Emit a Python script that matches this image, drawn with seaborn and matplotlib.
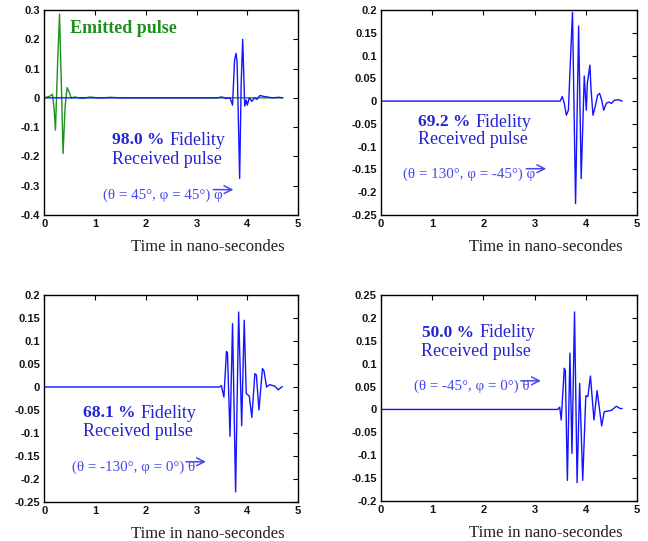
import matplotlib
matplotlib.use("Agg")
import matplotlib.pyplot as plt
import seaborn as sns
import pandas as pd

# ---------------- data ----------------
x_ticks = [0, 1, 2, 3, 4, 5]
x_ticklabels = ["0", "1", "2", "3", "4", "5"]

# panel 1 : emitted (green) and received (blue)
t_emit = [0.00, 0.10, 0.16, 0.19, 0.22, 0.26, 0.30, 0.34, 0.37, 0.41, 0.45, 0.49, 0.53,
          0.60, 0.75, 0.90, 1.10, 1.30, 1.50, 2.00, 4.70]
v_emit = [0.0, 0.005, 0.012, -0.03, -0.11, 0.106, 0.286, 0.02, -0.19, -0.03, 0.035, 0.02, 0.0,
          0.003, -0.002, 0.003, -0.001, 0.002, 0.0, 0.0, 0.0]
t_rx1 = [0.00, 3.40, 3.50, 3.58, 3.66, 3.71, 3.75, 3.78, 3.80, 3.85, 3.88, 3.91, 3.95, 3.98,
         4.00, 4.04, 4.09, 4.14, 4.19, 4.25, 4.32, 4.39, 4.50, 4.62, 4.70]
v_rx1 = [0.0, 0.0, 0.003, -0.002, 0.0, -0.025, 0.13, 0.152, 0.12, -0.275, 0.05, 0.200, -0.028,
         -0.008, -0.025, 0.0, -0.012, 0.0, -0.005, 0.008, 0.005, 0.003, 0.0, 0.002, 0.0]
y1_ticks = [-0.4, -0.3, -0.2, -0.1, 0, 0.1, 0.2, 0.3]
y1_labels = ["-0.4", "-0.3", "-0.2", "-0.1", "0", "0.1", "0.2", "0.3"]

# panel 2
t_rx2 = [0.00, 3.50, 3.54, 3.58, 3.62, 3.66, 3.70, 3.74, 3.80, 3.86, 3.91, 3.97, 4.01, 4.03,
         4.08, 4.10, 4.14, 4.19, 4.23, 4.27, 4.31, 4.35, 4.40, 4.45, 4.50, 4.56, 4.64, 4.71]
v_rx2 = [0.0, 0.0, 0.01, -0.005, -0.031, -0.02, 0.09, 0.195, -0.225, 0.165, -0.17, 0.055, -0.02,
         0.039, 0.079, 0.03, -0.031, -0.009, 0.013, 0.017, 0.002, -0.02, -0.005, -0.002, -0.005,
         0.002, 0.003, 0.0]
y2_ticks = [-0.25, -0.2, -0.15, -0.1, -0.05, 0, 0.05, 0.1, 0.15, 0.2]
y2_labels = ["-0.25", "-0.2", "-0.15", "-0.1", "-0.05", "0", "0.05", "0.1", "0.15", "0.2"]

# panel 3
t_rx3 = [0.00, 3.45, 3.49, 3.54, 3.59, 3.61, 3.66, 3.71, 3.77, 3.83, 3.89, 3.94, 3.98, 4.04,
         4.09, 4.15, 4.18, 4.23, 4.30, 4.33, 4.38, 4.44, 4.54, 4.61, 4.69]
v_rx3 = [0.0, 0.0, 0.003, -0.022, 0.077, 0.075, -0.107, 0.138, -0.228, 0.163, -0.084, 0.145,
         -0.014, -0.02, -0.066, 0.029, 0.026, -0.05, 0.04, 0.035, 0.0, 0.005, 0.002, -0.006, 0.001]
y3_ticks = [-0.25, -0.2, -0.15, -0.1, -0.05, 0, 0.05, 0.1, 0.15, 0.2]
y3_labels = ["-0.25", "-0.2", "-0.15", "-0.1", "-0.05", "0", "0.05", "0.1", "0.15", "0.2"]

# panel 4
t_rx4 = [0.00, 3.45, 3.49, 3.52, 3.58, 3.60, 3.64, 3.69, 3.73, 3.78, 3.83, 3.88, 3.94, 4.00,
         4.04, 4.09, 4.16, 4.22, 4.31, 4.36, 4.50, 4.60, 4.67, 4.71]
v_rx4 = [0.0, 0.0, 0.005, -0.023, 0.09, 0.085, -0.155, 0.123, -0.096, 0.213, -0.16, 0.057,
         -0.155, 0.03, 0.028, 0.073, -0.023, 0.041, -0.036, -0.005, -0.002, 0.007, 0.002, 0.002]
y4_ticks = [-0.2, -0.15, -0.1, -0.05, 0, 0.05, 0.1, 0.15, 0.2, 0.25]
y4_labels = ["-0.2", "-0.15", "-0.1", "-0.05", "0", "0.05", "0.1", "0.15", "0.2", "0.25"]

fidelity = ["98.0 %", "69.2 %", "68.1 %", "50.0 %"]
angles = ["(θ = 45°, φ = 45°) φ", "(θ = 130°, φ = -45°) φ",
          "(θ = -130°, φ = 0°) θ", "(θ = -45°, φ = 0°) θ"]
xlabel = "Time in nano-secondes"

# ---------------- style ----------------
sns.set_style("white")
plt.rcParams["font.family"] = ["Liberation Serif", "DejaVu Serif"]

BLUE = "#1414ff"
GREEN = "#1c921c"
TXT_BLUE = "#2424d4"
SUB_BLUE = "#4646f0"

fig = plt.figure(figsize=(6.48, 5.41), dpi=100)
fig.patch.set_facecolor("white")

positions = [
    [44.3 / 648, 1 - 215 / 541, 253.7 / 648, 205 / 541],
    [381 / 648, 1 - 215 / 541, 256 / 648, 205 / 541],
    [44.3 / 648, 1 - 502 / 541, 253.7 / 648, 207 / 541],
    [381 / 648, 1 - 501 / 541, 256 / 648, 206 / 541],
]
ylims = [(-0.4, 0.3), (-0.25, 0.2), (-0.25, 0.2), (-0.2, 0.25)]
yticks = [(y1_ticks, y1_labels), (y2_ticks, y2_labels), (y3_ticks, y3_labels), (y4_ticks, y4_labels)]
series = [(t_rx1, v_rx1), (t_rx2, v_rx2), (t_rx3, v_rx3), (t_rx4, v_rx4)]

# text placements (data coords): fidelity split x, fidelity y, received x, received y,
# subtitle left x, subtitle y
txt_pos = [
    (2.37, -0.144, 2.41, -0.209, 1.15, -0.333),
    (1.75, -0.046, 1.80, -0.084, 0.43, -0.161),
    (1.80, -0.057, 1.84, -0.096, 0.54, -0.175),
    (1.82, 0.167, 1.86, 0.127, 0.65, 0.050),
]

subs = []
for i in range(4):
    ax = fig.add_axes(positions[i])
    if i == 0:
        sns.lineplot(data=pd.DataFrame({"t": t_emit, "v": v_emit}), x="t", y="v", ax=ax,
                     color=GREEN, linewidth=1.0, sort=False, estimator=None)
    t, v = series[i]
    sns.lineplot(data=pd.DataFrame({"t": t, "v": v}), x="t", y="v", ax=ax,
                 color=BLUE, linewidth=1.0, sort=False, estimator=None)
    ax.set_xlim(0, 5)
    ax.set_ylim(*ylims[i])
    ax.set_xticks(x_ticks)
    ax.set_xticklabels(x_ticklabels)
    ax.set_yticks(yticks[i][0])
    ax.set_yticklabels(yticks[i][1])
    ax.tick_params(direction="in", length=3.5, width=0.8, top=True, right=True,
                   labelsize=8, pad=3, colors="black")
    for lab in ax.get_xticklabels() + ax.get_yticklabels():
        lab.set_fontfamily("Liberation Sans")
        lab.set_fontweight("bold")
        lab.set_color("#151515")
    for sp in ax.spines.values():
        sp.set_visible(True)
        sp.set_color("black")
        sp.set_linewidth(1.0)
    ax.set_ylabel("")
    ax.set_xlabel(xlabel, fontsize=12, color="#202020")
    ax.xaxis.set_label_coords(0.645, -0.115)
    ax.xaxis.label.set_va("top")

    fx, fy, rx, ry, sx, sy = txt_pos[i]
    ax.text(fx, fy, fidelity[i], ha="right", va="center", fontsize=12.5,
            fontweight="bold", color=TXT_BLUE)
    ax.text(fx + 0.1, fy, "Fidelity", ha="left", va="center", fontsize=13, color=TXT_BLUE)
    ax.text(rx, ry, "Received pulse", ha="center", va="center", fontsize=13, color=TXT_BLUE)
    st = ax.text(sx, sy, angles[i], ha="left", va="center", fontsize=10.8, color=SUB_BLUE)
    subs.append((ax, st))
    if i == 0:
        ax.text(0.51, 0.238, "Emitted pulse", ha="left", va="center", fontsize=13,
                fontweight="bold", color=GREEN)

# vector arrows over the last symbol of each angle caption
renderer = fig.canvas.get_renderer()
for ax, st in subs:
    bb = st.get_window_extent(renderer)
    inv = ax.transData.inverted()
    x0, y0 = inv.transform((bb.x1 - 9, bb.y1 - 1))
    x1, _ = inv.transform((bb.x1 + 11, bb.y1 - 1))
    ax.annotate("", xy=(x1, y0), xytext=(x0, y0),
                arrowprops=dict(arrowstyle="->,head_length=0.55,head_width=0.28",
                                color=SUB_BLUE, lw=1.1, shrinkA=0, shrinkB=0))

fig.savefig("out.png", dpi=100, facecolor="white")
